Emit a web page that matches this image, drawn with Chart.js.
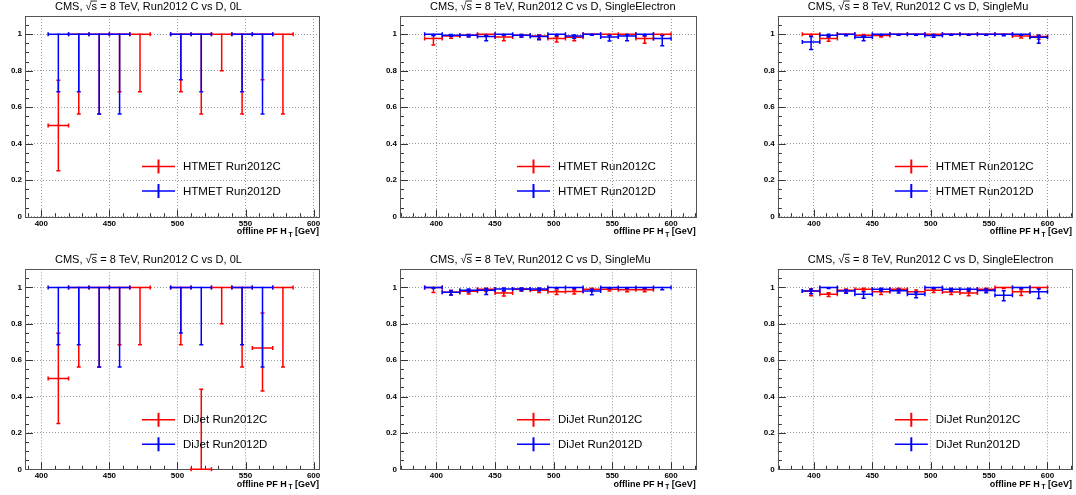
<!DOCTYPE html>
<html>
<head>
<meta charset="utf-8">
<script src="https://cdn.jsdelivr.net/npm/chart.js@4.4.1/dist/chart.umd.min.js"></script>
<style>
  body { margin: 0; background: #fff; }
  #page { position: relative; width: 1076px; height: 495px; overflow: hidden; background: #fff; }
  #page canvas { position: absolute; }
</style>
</head>
<body>
<div id="page"></div>
<script>
// HT bins: 15 GeV wide, 390-600 GeV
const binCenters = [397.5, 412.5, 427.5, 442.5, 457.5, 472.5, 487.5, 502.5, 517.5, 532.5, 547.5, 562.5, 577.5, 592.5];
const binHalfWidth = 7.5;

const xTickValues = [400, 450, 500, 550, 600];
const yTickValues = [0, 0.2, 0.4, 0.6, 0.8, 1];

const panelTitles = [
  "CMS, √s = 8 TeV, Run2012 C vs D, 0L",
  "CMS, √s = 8 TeV, Run2012 C vs D, SingleElectron",
  "CMS, √s = 8 TeV, Run2012 C vs D, SingleMu",
  "CMS, √s = 8 TeV, Run2012 C vs D, 0L",
  "CMS, √s = 8 TeV, Run2012 C vs D, SingleMu",
  "CMS, √s = 8 TeV, Run2012 C vs D, SingleElectron",
];
const legendHtmet = ["HTMET Run2012C", "HTMET Run2012D"];
const legendDijet = ["DiJet Run2012C", "DiJet Run2012D"];

// efficiencies and asymmetric errors (lower, upper), null = empty bin
// HTMET trigger, 0L
const htmet0L_C    = [null, 0.5, 1, 1, 1, 1, null, 1, 1, 1, 1, 1, 1, null];
const htmet0L_C_lo = [null, 0.248, 0.437, 0.437, 0.315, 0.315, null, 0.315, 0.437, 0.2, 0.437, 0.25, 0.437, null];
const htmet0L_C_hi = [null, 0.248, 0, 0, 0, 0, null, 0, 0, 0, 0, 0, 0, null];
const htmet0L_D    = [null, 1, 1, 1, 1, null, null, 1, 1, null, 1, 1, null, null];
const htmet0L_D_lo = [null, 0.315, 0.315, 0.437, 0.437, null, null, 0.25, 0.315, null, 0.315, 0.437, null, null];
const htmet0L_D_hi = [null, 0, 0, 0, 0, null, null, 0, 0, null, 0, 0, null, null];

// HTMET trigger, SingleElectron
const htmetEle_C    = [0.976, 0.99, 0.995, 1.0, 0.985, 0.995, 0.99, 0.976, 0.983, 1.0, 1.0, 1.0, 0.976, 1.0];
const htmetEle_C_lo = [0.035, 0.012, 0.008, 0.006, 0.02, 0.01, 0.012, 0.018, 0.018, 0.006, 0.006, 0.006, 0.026, 0.006];
const htmetEle_C_hi = [0.018, 0.006, 0.004, 0, 0.01, 0.004, 0.006, 0.01, 0.01, 0, 0, 0, 0.014, 0];
const htmetEle_D    = [1.0, 0.995, 0.995, 0.987, 1.0, 0.995, 0.987, 1.0, 0.99, 1.0, 0.985, 0.99, 1.0, 0.977];
const htmetEle_D_lo = [0.008, 0.006, 0.01, 0.022, 0.006, 0.01, 0.017, 0.008, 0.012, 0.006, 0.022, 0.025, 0.008, 0.04];
const htmetEle_D_hi = [0, 0.004, 0.004, 0.008, 0, 0.004, 0.008, 0, 0.006, 0, 0.01, 0.008, 0, 0.016];

// HTMET trigger, SingleMu
const htmetMu_C    = [1.0, 0.976, 1.0, 0.995, 0.993, 1.0, 1.0, 1.0, 1.0, 1.0, 1.0, 1.0, 0.99, 0.987];
const htmetMu_C_lo = [0.01, 0.014, 0.006, 0.008, 0.008, 0.005, 0.005, 0.006, 0.005, 0.005, 0.005, 0.006, 0.01, 0.015];
const htmetMu_C_hi = [0, 0.01, 0, 0.004, 0.004, 0, 0, 0, 0, 0, 0, 0, 0.006, 0.008];
const htmetMu_D    = [0.958, 0.995, 1.0, 0.983, 1.0, 1.0, 1.0, 0.993, 1.0, 1.0, 1.0, 1.0, 1.0, 0.983];
const htmetMu_D_lo = [0.042, 0.01, 0.008, 0.018, 0.006, 0.006, 0.006, 0.01, 0.006, 0.006, 0.006, 0.008, 0.006, 0.033];
const htmetMu_D_hi = [0.03, 0.005, 0, 0.008, 0, 0, 0, 0.006, 0, 0, 0, 0, 0, 0.012];

// DiJet trigger, 0L
const dijet0L_C    = [null, 0.5, 1, 1, 1, 1, null, 1, 0, 1, 1, 0.667, 1, null];
const dijet0L_C_lo = [null, 0.248, 0.437, 0.437, 0.315, 0.315, null, 0.315, 0, 0.2, 0.437, 0.237, 0.437, null];
const dijet0L_C_hi = [null, 0.248, 0, 0, 0, 0, null, 0, 0.44, 0, 0, 0.193, 0, null];
const dijet0L_D    = [null, 1, 1, 1, 1, null, null, 1, 1, null, 1, 1, null, null];
const dijet0L_D_lo = [null, 0.315, 0.315, 0.437, 0.437, null, null, 0.25, 0.315, null, 0.315, 0.437, null, null];
const dijet0L_D_hi = [null, 0, 0, 0, 0, null, null, 0, 0, null, 0, 0, null, null];

// DiJet trigger, SingleMu
const dijetMu_C    = [1.0, 0.974, 0.979, 0.99, 0.969, 0.99, 0.985, 0.976, 0.978, 0.99, 0.99, 0.988, 0.988, null];
const dijetMu_C_lo = [0.027, 0.015, 0.015, 0.012, 0.016, 0.01, 0.012, 0.014, 0.014, 0.01, 0.01, 0.012, 0.012, null];
const dijetMu_C_hi = [0, 0.01, 0.008, 0.006, 0.01, 0.006, 0.007, 0.01, 0.009, 0.006, 0.006, 0.007, 0.007, null];
const dijetMu_D    = [1.0, 0.974, 0.985, 0.985, 0.992, 0.992, 0.992, 1.0, 1.0, 0.98, 1.0, 1.0, 1.0, 1.0];
const dijetMu_D_lo = [0.006, 0.016, 0.01, 0.024, 0.01, 0.01, 0.01, 0.006, 0.006, 0.02, 0.006, 0.006, 0.006, 0.012];
const dijetMu_D_hi = [0, 0.01, 0.006, 0.01, 0.005, 0.005, 0.005, 0, 0, 0.01, 0, 0, 0, 0];

// DiJet trigger, SingleElectron
const dijetEle_C    = [0.98, 0.963, 0.985, 0.99, 0.976, 0.99, 0.976, 0.985, 0.975, 0.97, 0.99, 1.0, 0.976, 1.0];
const dijetEle_C_lo = [0.025, 0.012, 0.012, 0.01, 0.014, 0.01, 0.014, 0.012, 0.014, 0.016, 0.01, 0.006, 0.02, 0.006];
const dijetEle_C_hi = [0.012, 0.008, 0.007, 0.006, 0.01, 0.006, 0.01, 0.008, 0.01, 0.01, 0.006, 0, 0.012, 0];
const dijetEle_D    = [0.98, 1.0, 0.98, 0.963, 0.99, 0.982, 0.963, 1.0, 0.99, 0.99, 0.983, 0.957, 1.0, 0.976];
const dijetEle_D_lo = [0.015, 0.006, 0.012, 0.022, 0.01, 0.012, 0.02, 0.006, 0.01, 0.01, 0.012, 0.03, 0.006, 0.036];
const dijetEle_D_hi = [0.012, 0, 0.008, 0.014, 0.006, 0.008, 0.012, 0, 0.006, 0.006, 0.008, 0.025, 0, 0.016];

const RED = "#ff0000";
const BLUE = "#0000ff";
const FONT = '"Liberation Sans", Arial, Helvetica, sans-serif';

// frame boxes in page pixels [left, top, right, bottom] and x range of each pad
const panels = [
  { frame: [25, 16, 319, 216.7], xr: [388, 604], legend: legendHtmet,
    C: [htmet0L_C, htmet0L_C_lo, htmet0L_C_hi], D: [htmet0L_D, htmet0L_D_lo, htmet0L_D_hi] },
  { frame: [400, 16, 695.7, 216.7], xr: [369, 621], legend: legendHtmet,
    C: [htmetEle_C, htmetEle_C_lo, htmetEle_C_hi], D: [htmetEle_D, htmetEle_D_lo, htmetEle_D_hi] },
  { frame: [777.8, 16, 1072.3, 216.7], xr: [369, 621], legend: legendHtmet,
    C: [htmetMu_C, htmetMu_C_lo, htmetMu_C_hi], D: [htmetMu_D, htmetMu_D_lo, htmetMu_D_hi] },
  { frame: [25, 269.3, 319, 469.3], xr: [388, 604], legend: legendDijet,
    C: [dijet0L_C, dijet0L_C_lo, dijet0L_C_hi], D: [dijet0L_D, dijet0L_D_lo, dijet0L_D_hi] },
  { frame: [400, 269.3, 695.7, 469.3], xr: [369, 621], legend: legendDijet,
    C: [dijetMu_C, dijetMu_C_lo, dijetMu_C_hi], D: [dijetMu_D, dijetMu_D_lo, dijetMu_D_hi] },
  { frame: [777.8, 269.3, 1072.3, 469.3], xr: [369, 621], legend: legendDijet,
    C: [dijetEle_C, dijetEle_C_lo, dijetEle_C_hi], D: [dijetEle_D, dijetEle_D_lo, dijetEle_D_hi] },
];

function toPoints(s) {
  const [vals, lo, hi] = s;
  return binCenters
    .map((x, i) => (vals[i] == null ? null : { x: x, y: vals[i], lo: lo[i], hi: hi[i] }))
    .filter((p) => p !== null);
}

// frame + inward ticks (ROOT style)
const framePlugin = {
  id: "frame",
  beforeDatasetsDraw(chart) {
    const { ctx, chartArea: a, scales } = chart;
    ctx.save();
    ctx.strokeStyle = "#333";
    ctx.lineWidth = 1;
    ctx.beginPath();
    // y ticks every 0.05, major every 0.2
    for (let k = 0; k <= 22; k++) {
      const py = Math.round(scales.y.getPixelForValue(k * 0.05)) + 0.5;
      const len = k % 4 === 0 ? 8 : 4;
      ctx.moveTo(a.left, py);
      ctx.lineTo(a.left + len, py);
    }
    // x ticks every 10, major every 50
    for (let v = Math.ceil(scales.x.min / 10) * 10; v <= scales.x.max; v += 10) {
      const px = Math.round(scales.x.getPixelForValue(v)) + 0.5;
      const len = v % 50 === 0 ? 7 : 3.5;
      ctx.moveTo(px, a.bottom);
      ctx.lineTo(px, a.bottom - len);
    }
    ctx.stroke();
    ctx.strokeStyle = "#555";
    ctx.strokeRect(Math.round(a.left) + 0.5, Math.round(a.top) + 0.5,
      Math.round(a.right) - Math.round(a.left), Math.round(a.bottom) - Math.round(a.top));
    ctx.restore();
  },
};

// asymmetric error bars with small end marks
const errorBarPlugin = {
  id: "errorBars",
  afterDatasetsDraw(chart) {
    const { ctx, scales } = chart;
    const xs = scales.x, ys = scales.y;
    ctx.save();
    ctx.lineWidth = 1.5;
    chart.data.datasets.forEach((ds) => {
      ctx.strokeStyle = ds.borderColor;
      ctx.beginPath();
      ds.data.forEach((p) => {
        const xl = xs.getPixelForValue(p.x - binHalfWidth);
        const xr = xs.getPixelForValue(p.x + binHalfWidth);
        const xc = xs.getPixelForValue(p.x);
        const yc = ys.getPixelForValue(p.y);
        const yl = ys.getPixelForValue(p.y - p.lo);
        const yh = ys.getPixelForValue(p.y + p.hi);
        ctx.moveTo(xl, yc); ctx.lineTo(xr, yc);
        ctx.moveTo(xl, yc - 2); ctx.lineTo(xl, yc + 2);
        ctx.moveTo(xr, yc - 2); ctx.lineTo(xr, yc + 2);
        if (p.lo > 0 || p.hi > 0) {
          ctx.moveTo(xc, yh); ctx.lineTo(xc, yl);
        }
        if (p.lo > 0) { ctx.moveTo(xc - 2, yl); ctx.lineTo(xc + 2, yl); }
        if (p.hi > 0) { ctx.moveTo(xc - 2, yh); ctx.lineTo(xc + 2, yh); }
      });
      ctx.stroke();
    });
    ctx.restore();
  },
};

// title, legend and x-axis title
const textPlugin = {
  id: "texts",
  afterDraw(chart) {
    const { ctx, chartArea: a } = chart;
    const o = chart.options.plugins.texts;
    ctx.save();
    ctx.fillStyle = "#000";
    ctx.textBaseline = "alphabetic";
    ctx.textAlign = "left";

    // pad title with overline over the s
    ctx.font = "11px " + FONT;
    const tx = a.left + 30, ty = a.top - 6.5;
    ctx.fillText(o.title, tx, ty);
    const pre = ctx.measureText("CMS, √").width;
    const sw = ctx.measureText("s").width;
    ctx.strokeStyle = "#000";
    ctx.lineWidth = 0.8;
    ctx.beginPath();
    ctx.moveTo(tx + pre - 1, ty - 8.5);
    ctx.lineTo(tx + pre + sw, ty - 8.5);
    ctx.stroke();

    // x axis title: offline PF H_T [GeV], right aligned
    const big = "bold 9px " + FONT, small = "bold 6.5px " + FONT;
    ctx.font = big;
    const p1 = "offline PF H", p3 = " [GeV]";
    const w1 = ctx.measureText(p1).width, w3 = ctx.measureText(p3).width;
    ctx.font = small;
    const w2 = ctx.measureText(" T").width;
    let x0 = a.right - (w1 + w2 + w3);
    const by = a.bottom + 17.5;
    ctx.font = big;
    ctx.fillText(p1, x0, by);
    ctx.font = small;
    ctx.fillText(" T", x0 + w1, by + 2.5);
    ctx.font = big;
    ctx.fillText(p3, x0 + w1 + w2, by);

    // legend
    const colors = [RED, BLUE];
    const rows = [a.top + 150.5, a.top + 175];
    ctx.font = "11.5px " + FONT;
    ctx.textBaseline = "middle";
    o.legend.forEach((label, i) => {
      const y = rows[i];
      ctx.strokeStyle = colors[i];
      ctx.lineWidth = 1.5;
      ctx.beginPath();
      ctx.moveTo(a.left + 117, y);
      ctx.lineTo(a.left + 150, y);
      ctx.stroke();
      ctx.lineWidth = 2;
      ctx.beginPath();
      ctx.moveTo(a.left + 133.5, y - 7);
      ctx.lineTo(a.left + 133.5, y + 7);
      ctx.stroke();
      ctx.fillText(label, a.left + 158, y + 0.5);
    });
    ctx.restore();
  },
};

Chart.defaults.font.family = FONT;
Chart.defaults.color = "#000";

const page = document.getElementById("page");

panels.forEach((p, idx) => {
  const [fl, ft, fr, fb] = p.frame;
  const rowTop = ft < 100 ? 0 : 250;
  const rowBottom = ft < 100 ? 250 : 495;
  const cl = Math.floor(fl) - 25;
  const cr = Math.min(Math.ceil(fr) + 4, 1076);
  const cw = cr - cl, ch = rowBottom - rowTop;

  const canvas = document.createElement("canvas");
  canvas.width = cw;
  canvas.height = ch;
  canvas.style.left = cl + "px";
  canvas.style.top = rowTop + "px";
  canvas.style.width = cw + "px";
  canvas.style.height = ch + "px";
  page.appendChild(canvas);

  const yAxisW = fl - cl;
  const xAxisH = rowBottom - fb;

  new Chart(canvas.getContext("2d"), {
    type: "scatter",
    data: {
      datasets: [
        { label: p.legend[0], data: toPoints(p.C), borderColor: RED, backgroundColor: RED,
          pointRadius: 1, pointStyle: "rect", borderWidth: 0 },
        { label: p.legend[1], data: toPoints(p.D), borderColor: BLUE, backgroundColor: BLUE,
          pointRadius: 1, pointStyle: "rect", borderWidth: 0 },
      ],
    },
    options: {
      responsive: false,
      animation: false,
      events: [],
      layout: { padding: { left: 0, top: ft - rowTop, right: cr - fr, bottom: 0 } },
      plugins: {
        legend: { display: false },
        tooltip: { enabled: false },
        texts: { title: panelTitles[idx], legend: p.legend },
      },
      scales: {
        x: {
          type: "linear",
          min: p.xr[0],
          max: p.xr[1],
          afterBuildTicks: (axis) => { axis.ticks = xTickValues.map((v) => ({ value: v })); },
          afterFit: (axis) => {
            axis.height = xAxisH;
            axis.paddingLeft = axis.paddingRight = 0;
            axis.paddingTop = axis.paddingBottom = 0;
          },
          ticks: { font: { size: 8, weight: "bold" }, padding: 2, maxRotation: 0, autoSkip: false },
          grid: { color: "#9a9a9a", lineWidth: 1, drawTicks: false },
          border: { display: false, dash: [1, 2] },
        },
        y: {
          type: "linear",
          min: 0,
          max: 1.1,
          afterBuildTicks: (axis) => { axis.ticks = yTickValues.map((v) => ({ value: v })); },
          afterFit: (axis) => {
            axis.width = yAxisW;
            axis.paddingLeft = axis.paddingRight = 0;
            axis.paddingTop = axis.paddingBottom = 0;
          },
          ticks: {
            font: { size: 8, weight: "bold" },
            padding: 3,
            autoSkip: false,
            callback: (v) => String(Number(v.toFixed(2))),
          },
          grid: { color: "#9a9a9a", lineWidth: 1, drawTicks: false },
          border: { display: false, dash: [1, 2] },
        },
      },
    },
    plugins: [framePlugin, errorBarPlugin, textPlugin],
  });
});
</script>
</body>
</html>
